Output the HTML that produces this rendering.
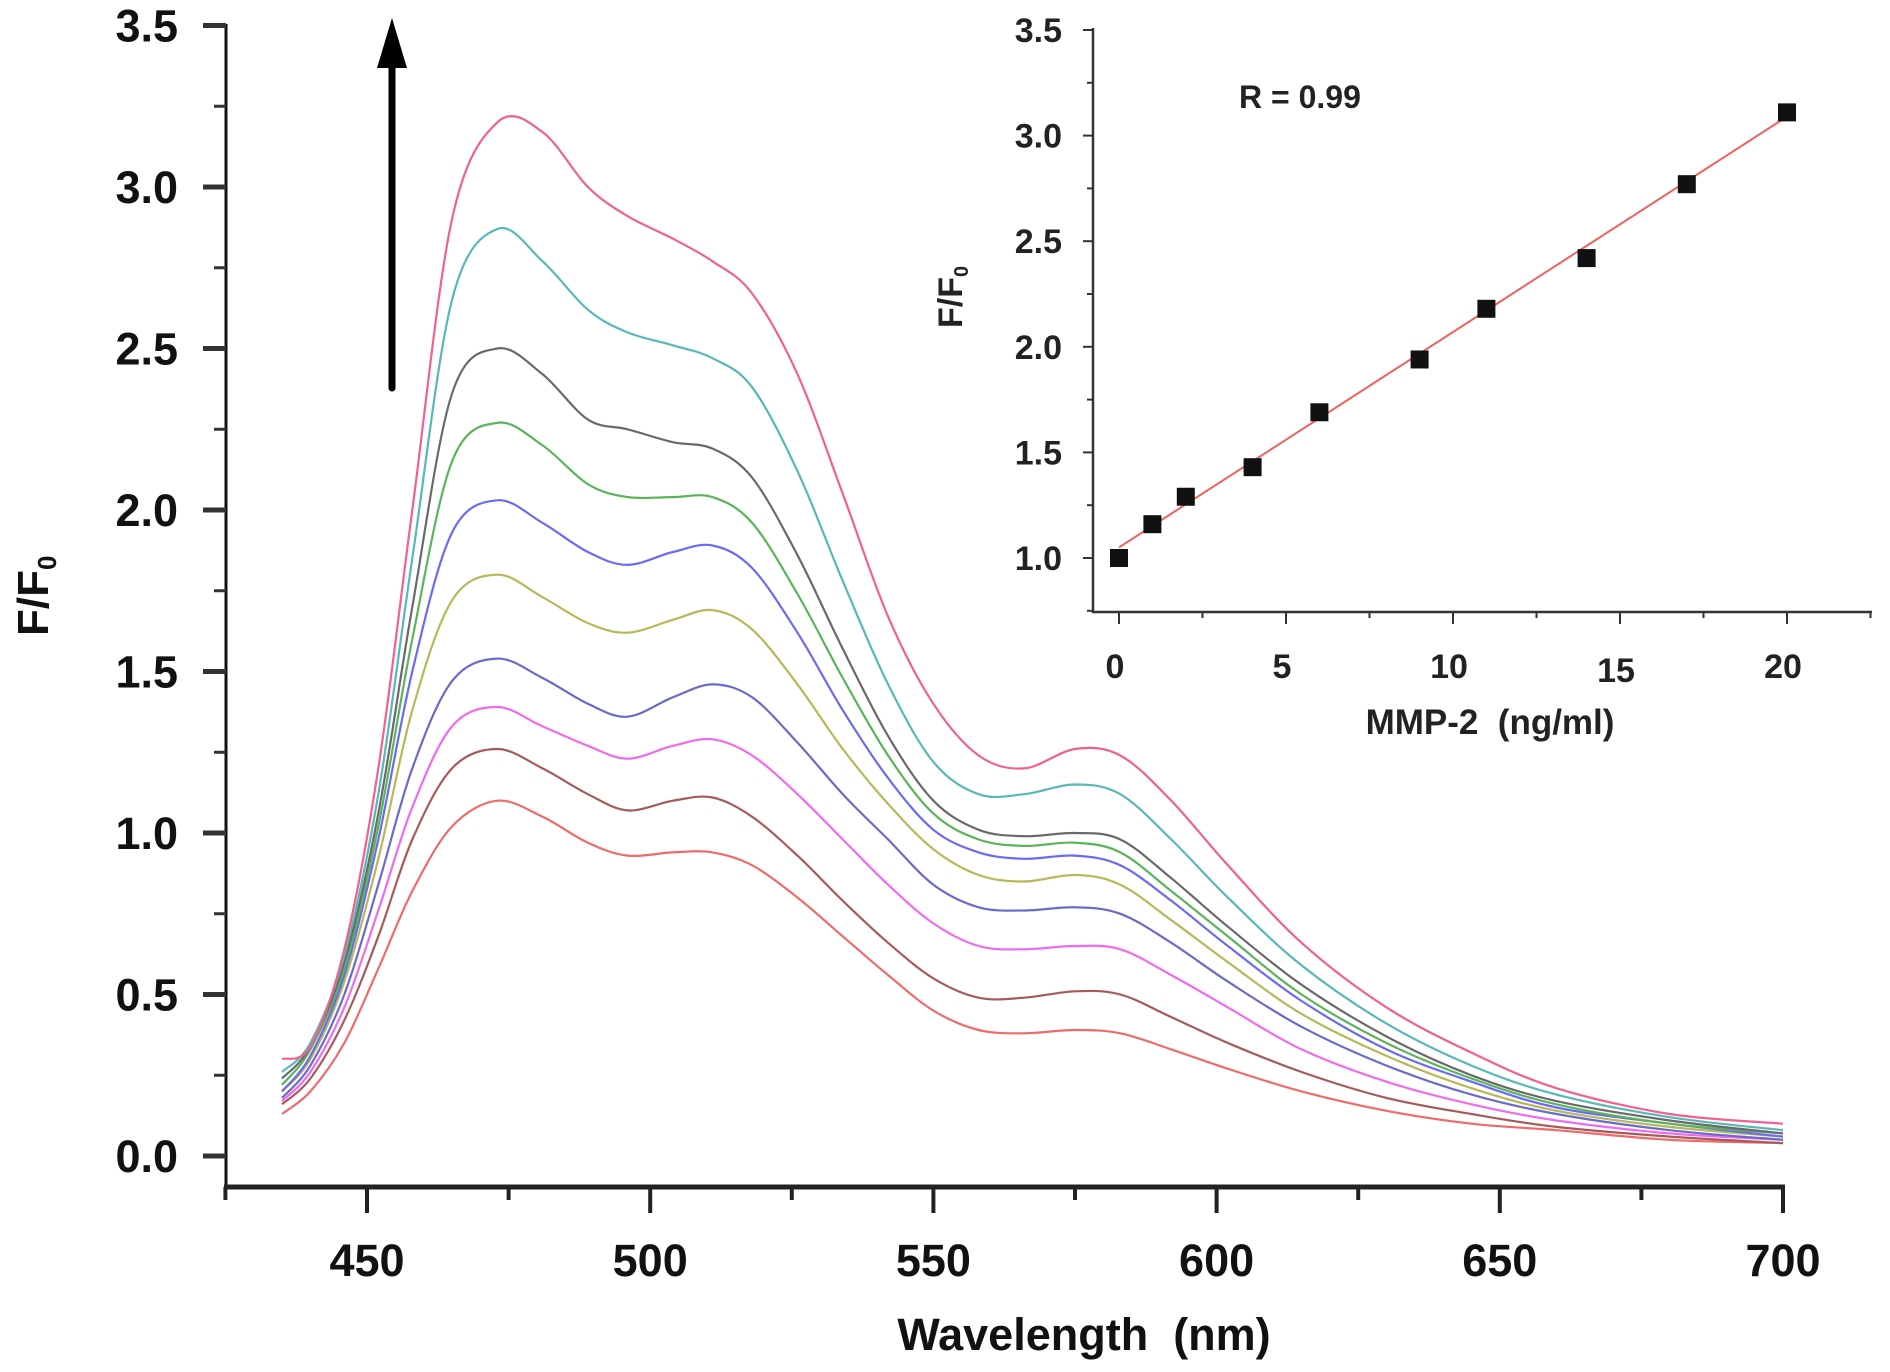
<!DOCTYPE html>
<html><head><meta charset="utf-8"><style>
html,body{margin:0;padding:0;background:#fff;}
svg{display:block;font-family:"Liberation Sans",Arial,sans-serif;}
</style></head><body>
<svg id="chart" width="1890" height="1372" viewBox="0 0 1890 1372" xmlns="http://www.w3.org/2000/svg">
<g id="main"></g>
<g id="inset"></g>
</svg>
<script>
// ---- main spectra data ----
const wavelengths = [435,440,446,452,458,465,473,481,489,496,504,511,518,526,534,542,550,558,566,575,583,592,602,615,630,645,660,680,700];
const seriesColors = ['#f06a6a','#a85a5a','#f06af0','#6a6ac8','#b8b858','#6a6af5','#5ab45a','#6a6a6a','#58b8b8','#f2608f'];
const s1 = [.13,.20,.35,.58,.82,1.02,1.10,1.05,.97,.93,.94,.94,.90,.80,.68,.56,.45,.39,.38,.39,.38,.33,.27,.20,.14,.10,.08,.05,.04];
const s2 = [.16,.24,.42,.68,.98,1.20,1.26,1.20,1.12,1.07,1.10,1.11,1.05,.93,.79,.66,.55,.49,.49,.51,.50,.43,.35,.26,.18,.13,.09,.06,.04];
const s3 = [.17,.26,.46,.76,1.08,1.33,1.39,1.33,1.27,1.23,1.27,1.29,1.24,1.12,.98,.84,.72,.65,.64,.65,.64,.56,.46,.33,.23,.16,.11,.07,.05];
const s4 = [.18,.28,.50,.84,1.20,1.47,1.54,1.48,1.40,1.36,1.42,1.46,1.42,1.28,1.12,.98,.84,.77,.76,.77,.75,.66,.54,.40,.28,.19,.13,.08,.05];
const s5 = [.20,.30,.54,.92,1.38,1.72,1.80,1.73,1.65,1.62,1.66,1.69,1.63,1.46,1.26,1.09,.95,.87,.85,.87,.84,.73,.60,.44,.31,.21,.14,.09,.06];
const s6 = [.20,.31,.56,.98,1.50,1.93,2.03,1.96,1.87,1.83,1.87,1.89,1.82,1.62,1.38,1.17,1.01,.94,.92,.93,.90,.79,.65,.48,.33,.23,.15,.10,.06];
const s7 = [.22,.33,.58,1.02,1.60,2.15,2.27,2.20,2.08,2.04,2.04,2.04,1.96,1.74,1.48,1.24,1.06,.98,.96,.97,.94,.82,.68,.50,.35,.24,.16,.10,.07];
const s8 = [.24,.34,.60,1.06,1.70,2.36,2.50,2.42,2.28,2.25,2.21,2.19,2.10,1.86,1.57,1.30,1.10,1.01,.99,1.00,.98,.86,.71,.53,.37,.25,.17,.11,.07];
const s9 = [.26,.35,.62,1.12,1.85,2.65,2.87,2.77,2.62,2.55,2.51,2.47,2.38,2.12,1.78,1.46,1.22,1.12,1.12,1.15,1.12,.98,.80,.59,.41,.28,.19,.12,.08];
const s10 = [.30,.34,.64,1.20,2.00,2.90,3.20,3.17,3.00,2.91,2.84,2.77,2.67,2.42,2.05,1.67,1.40,1.24,1.20,1.26,1.24,1.10,.90,.66,.46,.32,.21,.13,.10];
const mainXTicks = [450,500,550,600,650,700];
const mainYTicks = ['0.0','0.5','1.0','1.5','2.0','2.5','3.0','3.5'];
// ---- inset data ----
const conc = [0,1,2,4,6,9,11,14,17,20];
const ratio = [1.00,1.16,1.29,1.43,1.69,1.94,2.18,2.42,2.77,3.11];
const fitEnds = [1.05,3.09];
const insetXTicks = [0,5,10,15,20];
const insetYTicks = ['1.0','1.5','2.0','2.5','3.0','3.5'];

const NS='http://www.w3.org/2000/svg';
function mk(parent,tag,attrs,text){const e=document.createElementNS(NS,tag);for(const k in attrs)e.setAttribute(k,attrs[k]);if(text!==undefined)e.textContent=text;parent.appendChild(e);return e;}

const mx = w => 367 + (w-450)*5.664;
const my = v => 1156 - v*323;
const main = document.getElementById('main');
const allSeries=[s1,s2,s3,s4,s5,s6,s7,s8,s9,s10];
function smoothPath(pts){
  let d='M'+pts[0][0].toFixed(1)+','+pts[0][1].toFixed(1);
  for(let i=0;i<pts.length-1;i++){
    const p0=pts[Math.max(0,i-1)],p1=pts[i],p2=pts[i+1],p3=pts[Math.min(pts.length-1,i+2)];
    const c1x=p1[0]+(p2[0]-p0[0])/6,c1y=p1[1]+(p2[1]-p0[1])/6;
    const c2x=p2[0]-(p3[0]-p1[0])/6,c2y=p2[1]-(p3[1]-p1[1])/6;
    d+=' C'+c1x.toFixed(1)+','+c1y.toFixed(1)+' '+c2x.toFixed(1)+','+c2y.toFixed(1)+' '+p2[0].toFixed(1)+','+p2[1].toFixed(1);
  }
  return d;
}
allSeries.forEach((s,i)=>{
  const pts=wavelengths.map((w,j)=>[mx(w),my(s[j])]);
  const p=mk(main,'path',{d:smoothPath(pts),fill:'none',stroke:seriesColors[i],'stroke-width':2.2});
  
  
});
let e=mk(main,'line',{x1:226,y1:24,x2:226,y2:1188,stroke:'#111','stroke-width':3});

for(let k=0;k<=14;k++){const v=k*0.25;const major=k%2===0;
  mk(main,'line',{x1:major?203:214,y1:my(v),x2:226,y2:my(v),stroke:'#333','stroke-width':major?5:3});}
mainYTicks.forEach(t=>{const v=parseFloat(t);
  const tx=mk(main,'text',{x:178,y:my(v)+16,'text-anchor':'end','font-size':45,'font-weight':'bold',fill:'#111'},t);
  });
e=mk(main,'line',{x1:224,y1:1187,x2:1785,y2:1187,stroke:'#222','stroke-width':5});

for(let w=425;w<=700;w+=25){const major=(w%50===0);
  mk(main,'line',{x1:mx(w),y1:1187,x2:mx(w),y2:major?1213:1200,stroke:'#222','stroke-width':4});}
mainXTicks.forEach(w=>{
  const tx=mk(main,'text',{x:mx(w),y:1276,'text-anchor':'middle','font-size':45,'font-weight':'bold',fill:'#111'},String(w));
  });
e=mk(main,'text',{x:1084,y:1350,'text-anchor':'middle','font-size':45,'font-weight':'bold',fill:'#111'},'Wavelength\u00a0 (nm)');

e=mk(main,'text',{x:0,y:0,transform:'translate(48,636) rotate(-90)','font-size':44,'font-weight':'bold',fill:'#111'});

mk(e,'tspan',{},'F/F');mk(e,'tspan',{'font-size':26,dy:8},'0');
e=mk(main,'g',{});

mk(e,'line',{x1:392,y1:388,x2:392,y2:60,stroke:'#000','stroke-width':7,'stroke-linecap':'round'});
mk(e,'polygon',{points:'392,18 377,68 407,68',fill:'#000'});

const ix = c => 1119 + c*33.4;
const iy = v => 558 - (v-1)*211.2;
const inset=document.getElementById('inset');
e=mk(inset,'line',{x1:1093,y1:28,x2:1093,y2:613,stroke:'#333','stroke-width':2.5});

for(let k=0;k<=11;k++){const v=0.75+k*0.25;const major=(k%2===1);
  mk(inset,'line',{x1:major?1083:1087,y1:iy(v),x2:1093,y2:iy(v),stroke:'#333','stroke-width':2});}
insetYTicks.forEach(t=>{const v=parseFloat(t);
  const tx=mk(inset,'text',{x:1062,y:iy(v)+12,'text-anchor':'end','font-size':34,'font-weight':'bold',fill:'#222'},t);
  });
e=mk(inset,'line',{x1:1092,y1:612,x2:1872,y2:612,stroke:'#333','stroke-width':2.5});

for(let c=0;c<=22.5;c+=2.5){const major=(c%5===0);
  mk(inset,'line',{x1:ix(c),y1:612,x2:ix(c),y2:major?624:618,stroke:'#333','stroke-width':2});}
insetXTicks.forEach((c,i)=>{
  const tx=mk(inset,'text',{x:ix(c)-4,y:i===3?682:678,'text-anchor':'middle','font-size':34,'font-weight':'bold',fill:'#222'},String(c));
  });
e=mk(inset,'text',{x:1490,y:734,'text-anchor':'middle','font-size':35,'font-weight':'bold',fill:'#222'},'MMP-2\u00a0 (ng/ml)');

e=mk(inset,'text',{x:0,y:0,transform:'translate(962,328) rotate(-90)','font-size':34,'font-weight':'bold',fill:'#222'});

mk(e,'tspan',{},'F/F');mk(e,'tspan',{'font-size':20,dy:6},'0');
e=mk(inset,'text',{x:1239,y:108,'font-size':32,'font-weight':'bold',fill:'#222'},'R = 0.99');

e=mk(inset,'line',{x1:ix(0),y1:iy(fitEnds[0]),x2:ix(20),y2:iy(fitEnds[1]),stroke:'#f06060','stroke-width':2});

conc.forEach((c,i)=>{
  const r=mk(inset,'rect',{x:ix(c)-9,y:iy(ratio[i])-9,width:18,height:18,fill:'#111'});
  
  
});
</script>
</body></html>
